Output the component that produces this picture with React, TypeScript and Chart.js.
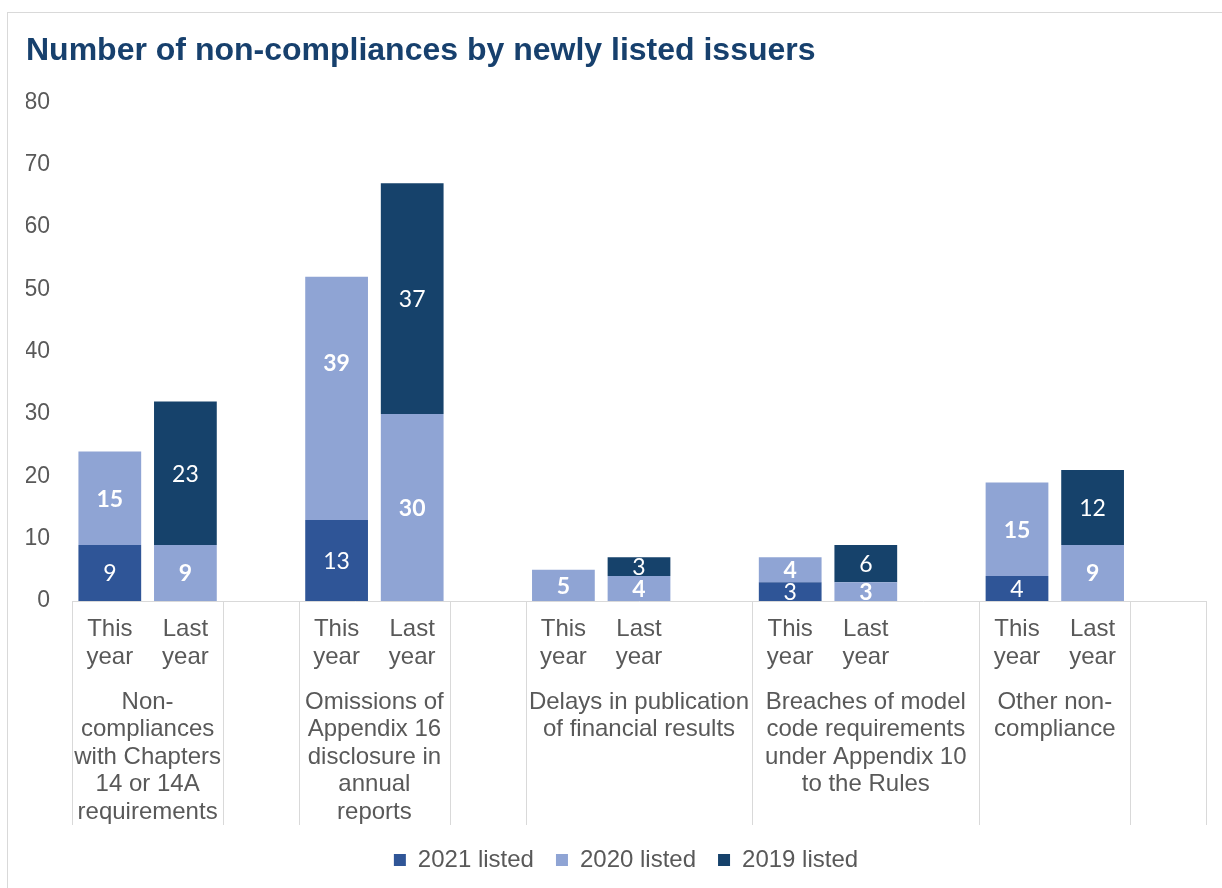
import React, { useEffect, useRef } from "react";
import { Chart, registerables } from "chart.js";

Chart.register(...registerables);

const chartTitle = "Number of non-compliances by newly listed issuers";
const categories = [
  "This year", "Last year", "",
  "This year", "Last year", "",
  "This year", "Last year", "",
  "This year", "Last year", "",
  "This year", "Last year", "",
];
const seriesNames = ["2021 listed", "2020 listed", "2019 listed"];
const listed2021 = [9, null, null, 13, null, null, null, null, null, 3, null, null, 4, null, null];
const listed2020 = [15, 9, null, 39, 30, null, 5, 4, null, 4, 3, null, 15, 9, null];
const listed2019 = [null, 23, null, null, 37, null, null, 3, null, null, 6, null, null, 12, null];
const groupNames = [
  ["Non-", "compliances", "with Chapters", "14 or 14A", "requirements"],
  ["Omissions of", "Appendix 16", "disclosure in", "annual", "reports"],
  ["Delays in publication", "of financial results"],
  ["Breaches of model", "code requirements", "under Appendix 10", "to the Rules"],
  ["Other non-", "compliance"],
];
const groupFirst = [0, 3, 6, 9, 12];
const groupLast = [1, 4, 8, 11, 13];
const separatorEdges = [0, 2, 3, 5, 6, 9, 12, 14, 15];
const yMin = 0;
const yMax = 80;
const yStep = 10;

const colors = ["#2F5597", "#8FA4D4", "#16426B"];
const TEXT_GRAY = "#595959";
const LINE_GRAY = "#D9D9D9";
const FONT = "'Liberation Sans', Arial, sans-serif";

const framePlugin = {
  id: "frame",
  beforeDraw(chart: any) {
    const ctx = chart.ctx;
    ctx.save();
    ctx.fillStyle = "#ffffff";
    ctx.fillRect(0, 0, chart.width, chart.height);
    ctx.strokeStyle = LINE_GRAY;
    ctx.lineWidth = 1;
    ctx.strokeRect(7.5, 12.5, chart.width + 20, chart.height + 20);
    ctx.restore();
  },
};

const legendShiftPlugin = {
  id: "legendShift",
  afterLayout(chart: any) {
    const lg = chart.legend;
    if (lg) {
      lg.left += 10;
      lg.right += 10;
    }
  },
};

const groupAxisPlugin = {
  id: "groupAxis",
  afterDraw(chart: any) {
    const x = chart.scales.x;
    const ctx = chart.ctx;
    const step = x.getPixelForValue(1) - x.getPixelForValue(0);
    const edge = (k: number) => x.getPixelForValue(k) - step / 2;
    const top = chart.chartArea.bottom;
    const bottom = x.bottom - 1;
    ctx.save();
    ctx.strokeStyle = LINE_GRAY;
    ctx.lineWidth = 1;
    separatorEdges.forEach((k) => {
      const px = Math.round(edge(k)) + 0.5;
      ctx.beginPath();
      ctx.moveTo(px, top);
      ctx.lineTo(px, bottom);
      ctx.stroke();
    });
    ctx.fillStyle = TEXT_GRAY;
    ctx.font = `24px ${FONT}`;
    ctx.textAlign = "center";
    ctx.textBaseline = "middle";
    const lineH = 27.6;
    groupNames.forEach((lines, g) => {
      const cx = (edge(groupFirst[g]) + edge(groupLast[g] + 1)) / 2;
      lines.forEach((ln, i) => {
        ctx.fillText(ln, cx, top + 101 + i * lineH);
      });
    });
    ctx.restore();
  },
};

// label for "2020 listed", Omissions / This year sits higher than centre in the original
const labelNudge: Record<string, number> = { "1:3": -36 };

const valueLabelPlugin = {
  id: "valueLabels",
  afterDatasetsDraw(chart: any) {
    const ctx = chart.ctx;
    ctx.save();
    ctx.fillStyle = "#ffffff";
    ctx.textAlign = "center";
    ctx.textBaseline = "middle";
    chart.data.datasets.forEach((ds: any, di: number) => {
      const meta = chart.getDatasetMeta(di);
      ctx.font = `${di === 1 ? "bold " : ""}23px Lato, 'Open Sans', sans-serif`;
      meta.data.forEach((el: any, i: number) => {
        const v = ds.data[i];
        if (v === null || v === undefined) return;
        const cy = (el.y + el.base) / 2 + (labelNudge[`${di}:${i}`] || 0);
        ctx.fillText(String(v), el.x, cy + 1);
      });
    });
    ctx.restore();
  },
};

export default function App() {
  const ref = useRef<HTMLCanvasElement | null>(null);

  useEffect(() => {
    if (!ref.current) return;
    const chart = new Chart(ref.current, {
      type: "bar",
      data: {
        labels: categories,
        datasets: [
          { label: seriesNames[0], data: listed2021, backgroundColor: colors[0], borderWidth: 0 },
          { label: seriesNames[1], data: listed2020, backgroundColor: colors[1], borderWidth: 0 },
          { label: seriesNames[2], data: listed2019, backgroundColor: colors[2], borderWidth: 0 },
        ],
      },
      options: {
        responsive: false,
        animation: false,
        devicePixelRatio: 1,
        layout: { padding: { left: 26, right: 16, top: 0, bottom: 6 } },
        datasets: {
          bar: { categoryPercentage: 0.83, barPercentage: 1 },
        },
        scales: {
          x: {
            stacked: true,
            grid: { display: false, drawTicks: false },
            border: { display: true, color: LINE_GRAY, width: 1 },
            ticks: {
              autoSkip: false,
              maxRotation: 0,
              minRotation: 0,
              padding: 15,
              color: TEXT_GRAY,
              font: { family: FONT, size: 24, lineHeight: 1.15 },
              callback: (_v: any, i: number) => (categories[i] ? categories[i].split(" ") : ""),
            },
            afterFit: (scale: any) => {
              scale.height = 225;
            },
          },
          y: {
            stacked: true,
            min: yMin,
            max: yMax,
            grid: { display: false, drawTicks: false },
            border: { display: false },
            ticks: {
              stepSize: yStep,
              padding: 22,
              color: TEXT_GRAY,
              font: { family: FONT, size: 23 },
            },
            afterFit: (scale: any) => {
              scale.width = 46;
            },
          },
        },
        plugins: {
          title: {
            display: true,
            text: chartTitle,
            align: "start",
            color: "#17406D",
            font: { family: FONT, size: 32, weight: "bold", lineHeight: 1.2 },
            padding: { top: 32.3, bottom: 31.6 },
          },
          legend: {
            display: true,
            position: "bottom",
            labels: {
              boxWidth: 12,
              boxHeight: 12,
              padding: 22,
              color: TEXT_GRAY,
              font: { family: FONT, size: 24 },
            },
          },
          tooltip: { enabled: false },
        },
      },
      plugins: [framePlugin, legendShiftPlugin, groupAxisPlugin, valueLabelPlugin],
    } as any);
    return () => chart.destroy();
  }, []);

  return (
    <div style={{ position: "absolute", left: 0, top: 0, width: 1222, height: 888, background: "#fff" }}>
      <canvas ref={ref} width={1222} height={888} style={{ display: "block" }} />
    </div>
  );
}
